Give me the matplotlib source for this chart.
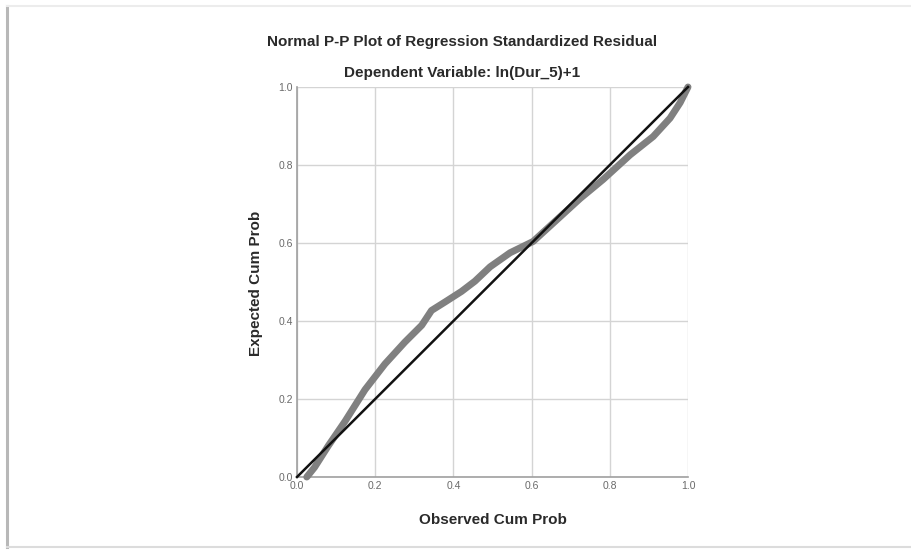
import matplotlib
matplotlib.use("Agg")
import matplotlib.pyplot as plt
from matplotlib.lines import Line2D

plt.rcParams['font.family'] = ['Liberation Sans', 'DejaVu Sans']

# Data
observed = [0.025, 0.045, 0.080, 0.123, 0.174, 0.225, 0.276, 0.319, 0.344, 0.379,
            0.421, 0.455, 0.494, 0.545, 0.604, 0.664, 0.724, 0.783, 0.852,
            0.911, 0.954, 0.980, 1.0]
expected = [0.0, 0.025, 0.080, 0.143, 0.224, 0.290, 0.346, 0.389, 0.427, 0.449,
            0.476, 0.502, 0.539, 0.575, 0.604, 0.659, 0.714, 0.763, 0.826,
            0.873, 0.920, 0.960, 1.0]
ref_line = [0.0, 1.0]
ticks = [0.0, 0.2, 0.4, 0.6, 0.8, 1.0]
tick_labels = ["0.0", "0.2", "0.4", "0.6", "0.8", "1.0"]

W, H = 911, 550
fig = plt.figure(figsize=(W / 100, H / 100), dpi=100)
fig.patch.set_facecolor('white')

# faint screenshot frame
fig.add_artist(Line2D([7 / W, 7 / W], [1 - 6 / H, 3 / H], transform=fig.transFigure,
                      color='#b8b8b8', lw=2.2))
fig.add_artist(Line2D([7 / W, 1.0], [1 - 6 / H, 1 - 6 / H], transform=fig.transFigure,
                      color='#ececec', lw=1.5))
fig.add_artist(Line2D([7 / W, 1.0], [3 / H, 3 / H], transform=fig.transFigure,
                      color='#dcdcdc', lw=1.5))

x0, x1, y0, y1 = 297, 688, 477, 87
ax = fig.add_axes([x0 / W, 1 - y0 / H, (x1 - x0) / W, (y0 - y1) / H])
ax.set_xlim(0, 1)
ax.set_ylim(0, 1)
ax.set_xticks(ticks)
ax.set_yticks(ticks)
ax.set_xticklabels(tick_labels)
ax.set_yticklabels(tick_labels)
ax.grid(True, color='#d4d4d4', lw=1.0)
ax.set_axisbelow(True)
for s in ['top', 'right']:
    ax.spines[s].set_visible(False)
for s in ['left', 'bottom']:
    ax.spines[s].set_color('#a0a0a0')
    ax.spines[s].set_linewidth(1.2)
ax.tick_params(length=0, labelsize=7.5, colors='#6a6a6a', pad=3)

ax.plot(observed, expected, color='#808080', lw=5, solid_capstyle='round',
        solid_joinstyle='round', clip_on=False, zorder=3)
ax.plot(ref_line, ref_line, color='#111111', lw=1.8, clip_on=False, zorder=4)

fig.text(462 / W, 1 - 42 / H, "Normal P-P Plot of Regression Standardized Residual",
         ha='center', va='center', fontsize=11, fontweight='bold', color='#2a2a2a')
fig.text(462 / W, 1 - 73 / H, "Dependent Variable: ln(Dur_5)+1",
         ha='center', va='center', fontsize=11, fontweight='bold', color='#2a2a2a')
fig.text(493 / W, 1 - 520 / H, "Observed Cum Prob", ha='center', va='center',
         fontsize=11, fontweight='bold', color='#2a2a2a')
fig.text(256 / W, 1 - 283 / H, "Expected Cum Prob", ha='center', va='center',
         rotation=90, fontsize=11, fontweight='bold', color='#2a2a2a')

fig.savefig('out.png', dpi=100)
